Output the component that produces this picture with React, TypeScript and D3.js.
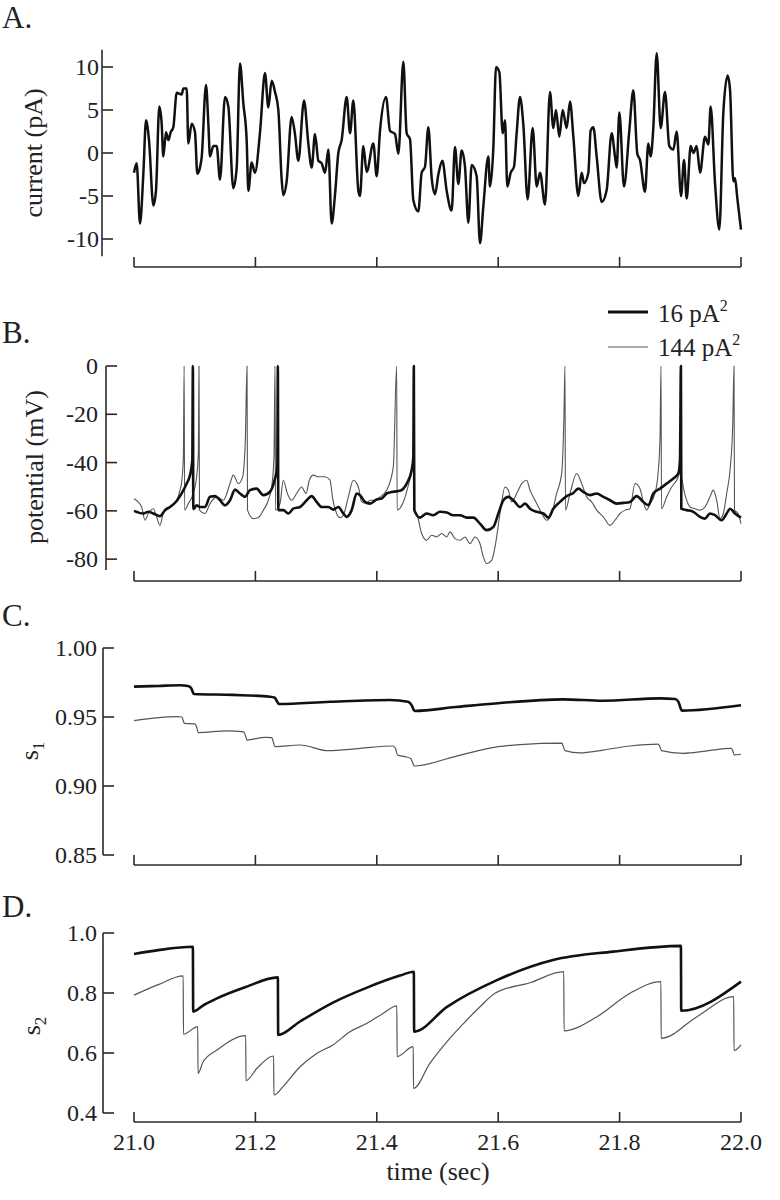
import React from "react";
import * as d3 from "d3";

// ---------- DATA (time offset from 21.0 s, value) ----------
const T0 = 21;
const xTicks = [21.0, 21.2, 21.4, 21.6, 21.8, 22.0];
const aTicks = [-10, -5, 0, 5, 10];
const bTicks = [-80, -60, -40, -20, 0];
const cTicks = [0.85, 0.9, 0.95, 1.0];
const dTicks = [0.4, 0.6, 0.8, 1.0];
const legendLabels = ["16 pA", "144 pA"];

const currentTrace: [number, number][] = [
  [0,-2.3],[0.0044,-1.2],[0.0099,-8.2],[0.0154,-2.4],[0.0198,3.8],[0.0247,1.5],[0.0319,-6.1],[0.0362,-4.4],
  [0.0417,5.4],[0.0456,3.4],[0.0483,-0.4],[0.0527,2.4],[0.0566,1.5],[0.0604,2.4],[0.0648,3.0],[0.0703,7.0],
  [0.0785,6.8],[0.0813,7.5],[0.0868,7.5],[0.0895,1.1],[0.095,3.4],[0.1005,2.4],[0.1043,-2.4],[0.1087,-1.7],
  [0.1115,-0.5],[0.1186,7.9],[0.1225,3.4],[0.1252,-0.4],[0.1307,0.8],[0.1362,0.8],[0.1417,-3.1],[0.1499,6.5],
  [0.1554,5.4],[0.1636,-4.1],[0.1691,-1.8],[0.1746,10.4],[0.1801,5.8],[0.1856,1.5],[0.1884,-4.4],[0.1938,-1.1],
  [0.1993,-2.3],[0.2076,2.4],[0.2158,9.3],[0.2213,5.3],[0.2268,8.4],[0.2323,7.1],[0.2378,5.0],[0.2433,-3.1],
  [0.246,-4.9],[0.2515,-3.3],[0.2597,4.2],[0.2652,2.2],[0.2707,-0.9],[0.2801,6.1],[0.2872,1.1],[0.2927,-1.7],
  [0.2982,2.2],[0.3037,-0.9],[0.3092,-1.2],[0.3147,-2.3],[0.3202,0.4],[0.3256,-8.2],[0.3311,-4.9],[0.3366,0.0],
  [0.3421,1.5],[0.3504,6.5],[0.3559,2.3],[0.3613,6.1],[0.3696,-4.4],[0.3723,-5.0],[0.3778,0.8],[0.3833,-2.2],
  [0.3943,1.1],[0.3998,-2.7],[0.4053,2.6],[0.4152,6.5],[0.4217,2.6],[0.43,2.2],[0.4355,-0.1],[0.4437,10.6],
  [0.4492,2.3],[0.4547,1.6],[0.4602,-5.5],[0.4684,-6.8],[0.4739,-2.3],[0.4794,-1.6],[0.4849,3.0],[0.4904,-2.9],
  [0.4959,-4.8],[0.5014,-2.5],[0.508,-0.9],[0.5151,-4.4],[0.5233,-6.7],[0.5288,0.7],[0.5343,-3.6],[0.5398,0.3],
  [0.5453,-1.6],[0.5508,-8.1],[0.5563,-1.4],[0.5645,-2.7],[0.57,-10.5],[0.5755,-6.2],[0.5837,-0.4],[0.5865,-3.9],
  [0.592,0.6],[0.5964,10.0],[0.6019,9.4],[0.6074,2.3],[0.6112,3.8],[0.615,-3.9],[0.6205,-2.3],[0.626,-1.6],
  [0.6304,2.3],[0.6359,6.5],[0.6414,3.3],[0.6485,-5.4],[0.6568,2.9],[0.6634,-3.9],[0.6689,-2.3],[0.6771,-6.0],
  [0.6853,7.1],[0.6908,2.9],[0.6952,5.0],[0.7007,1.9],[0.7062,5.0],[0.7128,2.9],[0.7183,6.0],[0.7238,1.9],
  [0.732,-5.0],[0.7375,-2.3],[0.7414,-3.5],[0.7485,-2.3],[0.7523,2.6],[0.7567,3.0],[0.7622,-0.4],[0.7705,-5.7],
  [0.7787,-4.3],[0.7869,2.3],[0.7924,-0.4],[0.7952,-1.7],[0.7996,4.7],[0.8072,-3.9],[0.816,2.6],[0.8226,7.3],
  [0.8292,-0.1],[0.8336,-0.8],[0.8418,-4.5],[0.8473,1.1],[0.8512,-0.4],[0.8556,3.0],[0.8611,11.6],[0.8677,2.9],
  [0.8748,7.1],[0.8819,0.8],[0.8885,0.4],[0.894,2.5],[0.9012,-5.0],[0.9061,-0.8],[0.9105,-5.3],[0.9171,0.8],
  [0.9215,0.0],[0.927,0.8],[0.9325,-2.3],[0.9407,1.9],[0.9462,1.0],[0.95,5.4],[0.9572,-3.5],[0.9643,-8.9],
  [0.9709,4.7],[0.978,9.0],[0.9819,7.4],[0.9874,-3.3],[0.9901,-2.9],[0.994,-5.3],[1.0,-8.9],
];

const potential16: [number, number][] = [
  [0,-60],[0.0154,-61.1],[0.0236,-60.4],[0.0319,-61.1],[0.0428,-62.2],[0.0511,-59.7],[0.0593,-58.4],[0.0703,-55.9],
  [0.0785,-52.8],[0.0868,-48.7],[0.0923,-45.2],[0.0961,-39],[0.097,0],[0.0977,-59.3],[0.1032,-57.7],[0.1087,-58.4],
  [0.117,-58.4],[0.1252,-54.2],[0.1334,-53.9],[0.1417,-55.6],[0.1499,-57.7],[0.1582,-55.6],[0.1664,-51.2],[0.1746,-52.8],
  [0.1829,-54.2],[0.1911,-51.4],[0.2021,-50.8],[0.2131,-53.5],[0.224,-52.1],[0.2323,-46.6],[0.2361,-41.8],[0.237,0],
  [0.2377,-59.7],[0.246,-59.7],[0.2543,-61.1],[0.2625,-59.1],[0.2735,-58.4],[0.2845,-55.6],[0.2927,-53.9],[0.3009,-56.3],
  [0.3092,-58.4],[0.3202,-58.4],[0.3284,-59.5],[0.3366,-58.4],[0.3449,-61.1],[0.3504,-62.5],[0.3586,-59.7],[0.3668,-52.8],
  [0.3723,-53.5],[0.3806,-56.3],[0.3888,-57.0],[0.3998,-55.3],[0.408,-54.9],[0.4163,-52.8],[0.4272,-52.1],[0.4382,-51.7],
  [0.4492,-48.7],[0.4574,-43.2],[0.4602,-37.6],[0.461,0],[0.4618,-59.7],[0.4711,-62.8],[0.4821,-61.1],[0.4931,-61.8],
  [0.5041,-60.4],[0.5151,-60.7],[0.5261,-61.8],[0.5371,-61.8],[0.5481,-62.8],[0.5591,-62.8],[0.57,-65.3],[0.581,-68.0],
  [0.592,-66.7],[0.6003,-61.1],[0.6085,-55.6],[0.6167,-54.2],[0.625,-55.6],[0.6359,-58.4],[0.6442,-57.0],[0.6524,-59.1],
  [0.6634,-60.4],[0.6744,-61.1],[0.6826,-62.8],[0.6908,-59.1],[0.7018,-56.3],[0.7128,-53.9],[0.7238,-52.6],[0.732,-50.8],
  [0.7402,-52.1],[0.7512,-53.5],[0.7622,-52.8],[0.7732,-54.2],[0.7842,-55.6],[0.7952,-57.0],[0.8062,-56.7],[0.8171,-56.3],
  [0.8281,-53.9],[0.8391,-56.3],[0.8474,-57.7],[0.8556,-52.8],[0.8666,-50.8],[0.8776,-48.7],[0.8885,-46.6],[0.8968,-44.5],
  [0.8995,-39],[0.901,0],[0.9017,-59.1],[0.9105,-59.7],[0.9215,-60.4],[0.9325,-62.5],[0.9407,-63.2],[0.9489,-61.1],
  [0.9572,-61.8],[0.9681,-63.9],[0.9764,-61.1],[0.9819,-59.1],[0.9901,-61.1],[1.0,-62.8],
];

const potential144: [number, number][] = [
  [0,-55],[0.0126,-58.4],[0.0181,-63.9],[0.0236,-61.1],[0.0319,-59.1],[0.0373,-62.5],[0.0428,-66.0],[0.0483,-61.1],
  [0.0593,-58.4],[0.0703,-55.6],[0.0758,-51.4],[0.0785,-48],[0.0813,-38],[0.0826,0],[0.0834,-59.7],[0.0895,-57.0],
  [0.0977,-52.8],[0.1032,-45.9],[0.106,-36],[0.1071,0],[0.1079,-59.7],[0.117,-61.1],[0.1252,-57.0],[0.1362,-54.2],
  [0.1472,-55.6],[0.1582,-48.7],[0.1636,-45.2],[0.1719,-48.7],[0.179,-45.9],[0.1834,-30.7],[0.1862,0],[0.187,-59.7],
  [0.1966,-63.2],[0.2048,-62.8],[0.2131,-59.7],[0.2213,-55.6],[0.2268,-50.1],[0.2306,-37.6],[0.2323,0],[0.2331,-59.7],
  [0.2405,-57.0],[0.246,-47.3],[0.2526,-52.8],[0.2597,-55.6],[0.268,-52.8],[0.2762,-50.1],[0.2834,-52.8],[0.2889,-47.3],
  [0.2954,-45.2],[0.3037,-45.9],[0.3147,-45.9],[0.3229,-47.3],[0.3273,-54.9],[0.3339,-61.1],[0.3394,-62.8],[0.3449,-61.8],
  [0.3531,-54.2],[0.3613,-47.3],[0.3696,-50.1],[0.3751,-56.3],[0.3833,-57.0],[0.3888,-55.6],[0.397,-55.6],[0.4053,-54.2],
  [0.4163,-51.4],[0.4272,-41.8],[0.4327,0],[0.4335,-59.7],[0.4437,-56.3],[0.4519,-49.4],[0.4585,-41.8],[0.4607,-26.5],
  [0.4615,0],[0.4623,-60],[0.4657,-61.1],[0.4739,-69.4],[0.4821,-72.2],[0.4904,-70.1],[0.4986,-70.8],[0.5069,-69.4],
  [0.5151,-70.8],[0.5206,-68.7],[0.5288,-71.5],[0.5371,-72.2],[0.5453,-70.8],[0.5535,-73.6],[0.5618,-70.8],[0.57,-73.6],
  [0.5755,-79.1],[0.581,-81.9],[0.5892,-80.5],[0.5947,-75.0],[0.603,-61.1],[0.6112,-50.1],[0.6167,-51.4],[0.6222,-56.3],
  [0.6304,-52.8],[0.6387,-48.7],[0.6469,-47.3],[0.6524,-51.4],[0.6606,-55.6],[0.6689,-59.7],[0.6799,-63.9],[0.6881,-61.1],
  [0.6963,-52.8],[0.7046,-44.5],[0.7084,-19.6],[0.71,0],[0.7108,-59.7],[0.7183,-52.8],[0.7293,-44.5],[0.7375,-48.7],
  [0.7457,-54.2],[0.754,-56.3],[0.7622,-59.7],[0.7732,-62.5],[0.7842,-66.0],[0.7924,-63.9],[0.8007,-61.1],[0.8089,-59.7],
  [0.8171,-59.1],[0.8254,-48.7],[0.8336,-50.8],[0.8391,-56.3],[0.8446,-59.7],[0.8501,-57.0],[0.8583,-52.8],[0.8638,-43.2],
  [0.8666,-29.3],[0.8682,0],[0.869,-59.1],[0.8776,-54.2],[0.8858,-50.1],[0.894,-47.3],[0.8995,-44.5],[0.9078,-53.5],
  [0.916,-58.4],[0.9242,-59.1],[0.9325,-59.7],[0.9407,-58.4],[0.9489,-54.2],[0.9544,-51.4],[0.9599,-55.6],[0.9654,-63.2],
  [0.9709,-61.1],[0.9764,-52.8],[0.9819,-43.2],[0.9863,-25.2],[0.9885,0],[0.9893,-59.7],[0.9951,-61.1],[1.0,-65.3],
];

const s1_16: [number, number][] = [
  [0,0.972],[0.04,0.9725],[0.0758,0.973],[0.089,0.9725],[0.094,0.971],[0.097,0.968],[0.0985,0.9667],[0.1631,0.966],
  [0.2241,0.9647],[0.232,0.964],[0.236,0.961],[0.2385,0.9594],[0.3229,0.961],[0.4217,0.9623],[0.4514,0.961],[0.458,0.958],
  [0.461,0.955],[0.4625,0.9544],[0.53,0.9572],[0.5997,0.96],[0.7068,0.9628],[0.7726,0.9618],[0.8666,0.9635],[0.8913,0.963],
  [0.897,0.961],[0.9,0.957],[0.9025,0.9546],[1.0,0.9585],
];

const s1_144: [number, number][] = [
  [0,0.9474],[0.0708,0.9503],[0.079,0.95],[0.081,0.9475],[0.083,0.9454],[0.1,0.945],[0.103,0.943],[0.106,0.9387],
  [0.153,0.94],[0.181,0.9392],[0.184,0.936],[0.186,0.9333],[0.2158,0.9353],[0.227,0.935],[0.2295,0.932],[0.232,0.9285],
  [0.2735,0.9297],[0.3196,0.9256],[0.3723,0.9273],[0.4267,0.929],[0.431,0.927],[0.434,0.9225],[0.4465,0.9213],[0.456,0.92],
  [0.459,0.917],[0.4615,0.9145],[0.53,0.9215],[0.5997,0.9285],[0.6359,0.93],[0.7051,0.931],[0.707,0.929],[0.71,0.9256],
  [0.7348,0.924],[0.7726,0.926],[0.8171,0.929],[0.8633,0.9304],[0.866,0.929],[0.869,0.9256],[0.9045,0.9237],[0.944,0.9255],
  [0.9835,0.9273],[0.986,0.926],[0.989,0.9225],[1.0,0.923],
];

const s2_16: [number, number][] = [
  [0,0.93],[0.04,0.943],[0.097,0.954],[0.0975,0.738],[0.115,0.76],[0.1367,0.782],[0.1829,0.819],[0.237,0.852],
  [0.2375,0.66],[0.2735,0.705],[0.3278,0.768],[0.3839,0.818],[0.4382,0.858],[0.461,0.871],[0.4615,0.671],[0.5157,0.754],
  [0.598,0.843],[0.6903,0.91],[0.7891,0.938],[0.901,0.957],[0.9015,0.741],[1.0,0.838],
];

const s2_144: [number, number][] = [
  [0,0.793],[0.04,0.828],[0.081,0.857],[0.0815,0.663],[0.105,0.688],[0.1055,0.532],[0.1137,0.57],[0.1367,0.61],
  [0.184,0.658],[0.1845,0.508],[0.2026,0.549],[0.23,0.59],[0.2305,0.46],[0.2455,0.488],[0.2735,0.554],[0.3015,0.599],
  [0.3278,0.627],[0.3558,0.671],[0.3839,0.699],[0.4102,0.732],[0.433,0.757],[0.4335,0.588],[0.46,0.621],[0.4605,0.482],
  [0.4876,0.566],[0.5157,0.638],[0.5432,0.699],[0.57,0.754],[0.5947,0.799],[0.6524,0.834],[0.708,0.871],[0.7085,0.674],
  [0.7628,0.721],[0.8171,0.799],[0.868,0.838],[0.8685,0.649],[0.9275,0.721],[0.988,0.788],[0.9885,0.608],[1.0,0.627],
];

// ---------- LAYOUT ----------
const FONT = "'Liberation Serif', 'Times New Roman', serif";
const AXIS = "#2a2a2a";
const THICK = "#111";
const THIN = "#555";

const x = d3.scaleLinear().domain([21, 22]).range([134, 741]);

type Panel = {
  letter: string;
  letterY: number;
  axisX: number;
  y: d3.ScaleLinear<number, number>;
  ticks: number[];
  fmt: (v: number) => string;
  xAxisY: number;
  title: string;
  titleX: number;
  titleY: number;
  labelGap: number;
};

const panels: Panel[] = [
  {
    letter: "A.", letterY: 28, axisX: 102,
    y: d3.scaleLinear().domain([-12, 12]).range([256.2, 49.8]),
    ticks: aTicks, fmt: (v) => String(v), xAxisY: 267,
    title: "current (pA)", titleX: 42, titleY: 153, labelGap: 3,
  },
  {
    letter: "B.", letterY: 343, axisX: 106,
    y: d3.scaleLinear().domain([-84.5, 0]).range([570, 366]),
    ticks: bTicks, fmt: (v) => String(v), xAxisY: 581,
    title: "potential (mV)", titleX: 43, titleY: 467, labelGap: 8,
  },
  {
    letter: "C.", letterY: 626, axisX: 103,
    y: d3.scaleLinear().domain([0.85, 1.0]).range([855, 648]),
    ticks: cTicks, fmt: (v) => v.toFixed(2), xAxisY: 865,
    title: "s1", titleX: 38, titleY: 751, labelGap: 6,
  },
  {
    letter: "D.", letterY: 917, axisX: 103,
    y: d3.scaleLinear().domain([0.4, 1.0]).range([1113, 933]),
    ticks: dTicks, fmt: (v) => v.toFixed(1), xAxisY: 1122,
    title: "s2", titleX: 40, titleY: 1026, labelGap: 6,
  },
];

function mkLine(y: d3.ScaleLinear<number, number>, curve: d3.CurveFactory) {
  return d3
    .line<[number, number]>()
    .x((d) => x(T0 + d[0]))
    .y((d) => y(d[1]))
    .curve(curve);
}

function Axes({ p, showLabels }: { p: Panel; showLabels: boolean }) {
  const [y0, y1] = p.y.range();
  return (
    <g>
      <line x1={p.axisX} x2={p.axisX} y1={y0} y2={y1} stroke={AXIS} strokeWidth={1.6} />
      {p.ticks.map((t) => (
        <g key={t}>
          <line x1={p.axisX} x2={p.axisX + 11} y1={p.y(t)} y2={p.y(t)} stroke={AXIS} strokeWidth={1.6} />
          <text
            x={p.axisX - p.labelGap}
            y={p.y(t)}
            dy="0.34em"
            textAnchor="end"
            fontSize={24}
            fontFamily={FONT}
            fill="#222"
          >
            {p.fmt(t)}
          </text>
        </g>
      ))}
      <line x1={x(21)} x2={x(22)} y1={p.xAxisY} y2={p.xAxisY} stroke={AXIS} strokeWidth={1.6} />
      {xTicks.map((t) => (
        <g key={t}>
          <line x1={x(t)} x2={x(t)} y1={p.xAxisY} y2={p.xAxisY - 10} stroke={AXIS} strokeWidth={1.6} />
          {showLabels && (
            <text x={x(t)} y={p.xAxisY + 28} textAnchor="middle" fontSize={24} fontFamily={FONT} fill="#222">
              {t.toFixed(1)}
            </text>
          )}
        </g>
      ))}
      <text x={2} y={p.letterY} fontSize={31} fontFamily={FONT} fill="#222">
        {p.letter}
      </text>
    </g>
  );
}

function YTitle({ p }: { p: Panel }) {
  const t = p.title;
  const rot = `rotate(-90 ${p.titleX} ${p.titleY})`;
  if (t === "s1" || t === "s2") {
    return (
      <text transform={rot} x={p.titleX} y={p.titleY} textAnchor="middle" fontSize={26} fontFamily={FONT} fill="#222">
        s<tspan fontSize={17} dy={6}>{t.slice(1)}</tspan>
      </text>
    );
  }
  return (
    <text transform={rot} x={p.titleX} y={p.titleY} textAnchor="middle" fontSize={26} fontFamily={FONT} fill="#222">
      {t}
    </text>
  );
}

export default function App() {
  const [pA, pB, pC, pD] = panels;
  const lineA = mkLine(pA.y, d3.curveMonotoneX);
  const lineB = mkLine(pB.y, d3.curveMonotoneX);
  const lineC = mkLine(pC.y, d3.curveMonotoneX);
  const lineD = mkLine(pD.y, d3.curveMonotoneX);

  return (
    <svg
      width={780}
      height={1200}
      viewBox="0 0 780 1200"
      style={{ position: "absolute", left: 0, top: 0, background: "#fff" }}
    >
      <rect width={780} height={1200} fill="#fff" />
      {panels.map((p, i) => (
        <g key={p.letter}>
          <Axes p={p} showLabels={i === 3} />
          <YTitle p={p} />
        </g>
      ))}

      {/* A */}
      <path d={lineA(currentTrace) || ""} fill="none" stroke={THICK} strokeWidth={2.5} strokeLinejoin="round" />

      {/* B */}
      <path d={lineB(potential144) || ""} fill="none" stroke={THIN} strokeWidth={1.1} strokeLinejoin="round" />
      <path d={lineB(potential16) || ""} fill="none" stroke={THICK} strokeWidth={2.6} strokeLinejoin="round" />

      {/* legend */}
      <g fontFamily={FONT} fill="#222">
        <line x1={608} x2={648} y1={312} y2={312} stroke={THICK} strokeWidth={2.8} />
        <text x={658} y={322} fontSize={25}>
          {legendLabels[0]}
          <tspan fontSize={16} dy={-11}>2</tspan>
        </text>
        <line x1={608} x2={648} y1={347} y2={347} stroke={THIN} strokeWidth={1.1} />
        <text x={658} y={356} fontSize={25}>
          {legendLabels[1]}
          <tspan fontSize={16} dy={-11}>2</tspan>
        </text>
      </g>

      {/* C */}
      <path d={lineC(s1_144) || ""} fill="none" stroke={THIN} strokeWidth={1.2} strokeLinejoin="round" />
      <path d={lineC(s1_16) || ""} fill="none" stroke={THICK} strokeWidth={2.6} strokeLinejoin="round" />

      {/* D */}
      <path d={lineD(s2_144) || ""} fill="none" stroke={THIN} strokeWidth={1.2} strokeLinejoin="round" />
      <path d={lineD(s2_16) || ""} fill="none" stroke={THICK} strokeWidth={2.6} strokeLinejoin="round" />

      <text x={438} y={1180} textAnchor="middle" fontSize={26} fontFamily={FONT} fill="#222">
        time (sec)
      </text>
    </svg>
  );
}
